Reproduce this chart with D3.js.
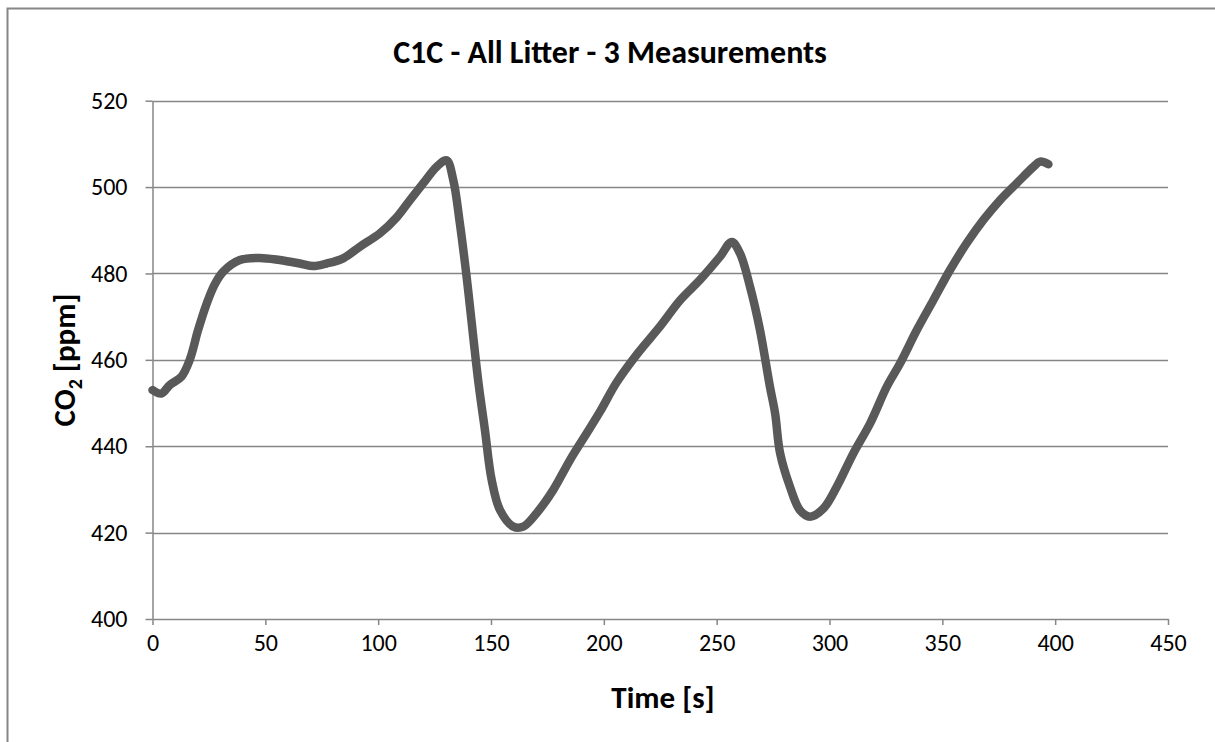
<!DOCTYPE html>
<html>
<head>
<meta charset="utf-8">
<script src="https://cdn.jsdelivr.net/npm/d3@7"></script>
<style>
	body { margin: 0; background: #fff; }
	text { font-family: Calibri, Carlito, Lato, "Open Sans", sans-serif; }
</style>
</head>
<body>
<div class="chart"></div>
<script>
var w = 1215, h = 742;

// time [s] and CO2 [ppm]
var times = [0, 3.9, 7.7, 12.8, 16.5, 20.2, 24, 27.6, 31.3, 38.7, 47.6, 56.4, 65.3, 71.2, 77.1, 84.5,
	91.9, 100.8, 108.2, 114.1, 120, 125.9, 130.3, 133.3, 136.2, 139.2, 144.3, 147.3, 150.3, 154,
	159.9, 164.3, 170.2, 177.6, 185, 192.4, 198.3, 205.7, 215, 225, 233.8, 242.6, 251.5, 256.7,
	260.3, 264.8, 269.2, 273.6, 275.9, 278.1, 282.5, 286.9, 291.4, 297.3, 303.2, 310.6, 318,
	325.4, 331.3, 338.7, 346, 353.4, 360.8, 368.2, 375.6, 383, 390.4, 393.3, 397];
var co2 = [453, 452.2, 454.2, 456.1, 460, 466.9, 473, 477.5, 480.4, 483.1, 483.6, 483.1, 482.3, 481.7, 482.3, 483.5,
	486.2, 489.3, 493, 497, 500.9, 504.7, 506.2, 501.6, 491.6, 479.2, 455.3, 443.8, 432.2, 425.2,
	421.4, 421.4, 424.5, 429.9, 436.8, 443, 448, 454.8, 461.5, 467.8, 473.8, 478.5, 483.9, 487.3,
	484.7, 476.9, 466.9, 453.8, 447.6, 438.4, 430.6, 425.2, 423.7, 425.6, 430.6, 438.4, 445.3,
	453.8, 459.2, 466.9, 473.8, 480.8, 487, 492.4, 497, 500.9, 504.7, 505.9, 505.3];

var xTicks = d3.range(0, 451, 50);
var yTicks = d3.range(400, 521, 20);

var data = times.map(function(t, i) { return { t: t, v: co2[i] }; });

var m = { left: 152.5, right: 1168, top: 100.7, bottom: 619 };

var xScale = d3.scaleLinear().domain([0, 450]).range([m.left, m.right]);
var yScale = d3.scaleLinear().domain([400, 520]).range([m.bottom, m.top]);

var svg = d3.select('.chart').append('svg')
	.attr('width', w)
	.attr('height', h);

// outer chart border
svg.append('rect')
	.attr('x', 7.5).attr('y', 8.5)
	.attr('width', w + 20).attr('height', h + 20)
	.attr('fill', '#fff')
	.attr('stroke', '#868686')
	.attr('stroke-width', 2);

// horizontal gridlines
svg.append('g')
	.selectAll('line')
	.data(yTicks.slice(1))
	.enter().append('line')
	.attr('x1', m.left).attr('x2', m.right)
	.attr('y1', function(d) { return Math.round(yScale(d)) + 0.5; })
	.attr('y2', function(d) { return Math.round(yScale(d)) + 0.5; })
	.attr('stroke', '#868686')
	.attr('stroke-width', 1.5);

var xAxis = svg.append('g')
	.attr('transform', 'translate(0,' + m.bottom + ')')
	.call(d3.axisBottom(xScale).tickValues(xTicks).tickSize(6).tickPadding(9).tickSizeOuter(0));

var yAxis = svg.append('g')
	.attr('transform', 'translate(' + m.left + ',0)')
	.call(d3.axisLeft(yScale).tickValues(yTicks).tickSize(7).tickPadding(18).tickSizeOuter(0));

[xAxis, yAxis].forEach(function(a) {
	a.select('.domain').attr('stroke', '#868686').attr('stroke-width', 1.5);
	a.selectAll('.tick line').attr('stroke', '#868686').attr('stroke-width', 1.5);
	a.selectAll('.tick text')
		.attr('fill', '#000')
		.style('font-size', '24px');
});

var lineFunction = d3.line()
	.curve(d3.curveCatmullRom)
	.x(function(d) { return xScale(d.t); })
	.y(function(d) { return yScale(d.v); });

svg.append('path')
	.datum(data)
	.attr('fill', 'none')
	.attr('stroke', '#595959')
	.attr('stroke-width', 8.5)
	.attr('stroke-linecap', 'round')
	.attr('stroke-linejoin', 'round')
	.attr('d', lineFunction);

// titles
svg.append('text')
	.attr('x', 610).attr('y', 63)
	.attr('text-anchor', 'middle')
	.style('font-size', '32px')
	.style('font-weight', 'bold')
	.text('C1C - All Litter - 3 Measurements');

svg.append('text')
	.attr('x', 663).attr('y', 708)
	.attr('text-anchor', 'middle')
	.style('font-size', '31px')
	.style('font-weight', 'bold')
	.text('Time [s]');

var yLabel = svg.append('text')
	.attr('transform', 'translate(75,360) rotate(-90)')
	.attr('text-anchor', 'middle')
	.style('font-size', '31px')
	.style('font-weight', 'bold');
yLabel.append('tspan').text('CO');
yLabel.append('tspan').attr('dy', 7).style('font-size', '20px').text('2');
yLabel.append('tspan').attr('dy', -7).text(' [ppm]');
</script>
</body>
</html>
